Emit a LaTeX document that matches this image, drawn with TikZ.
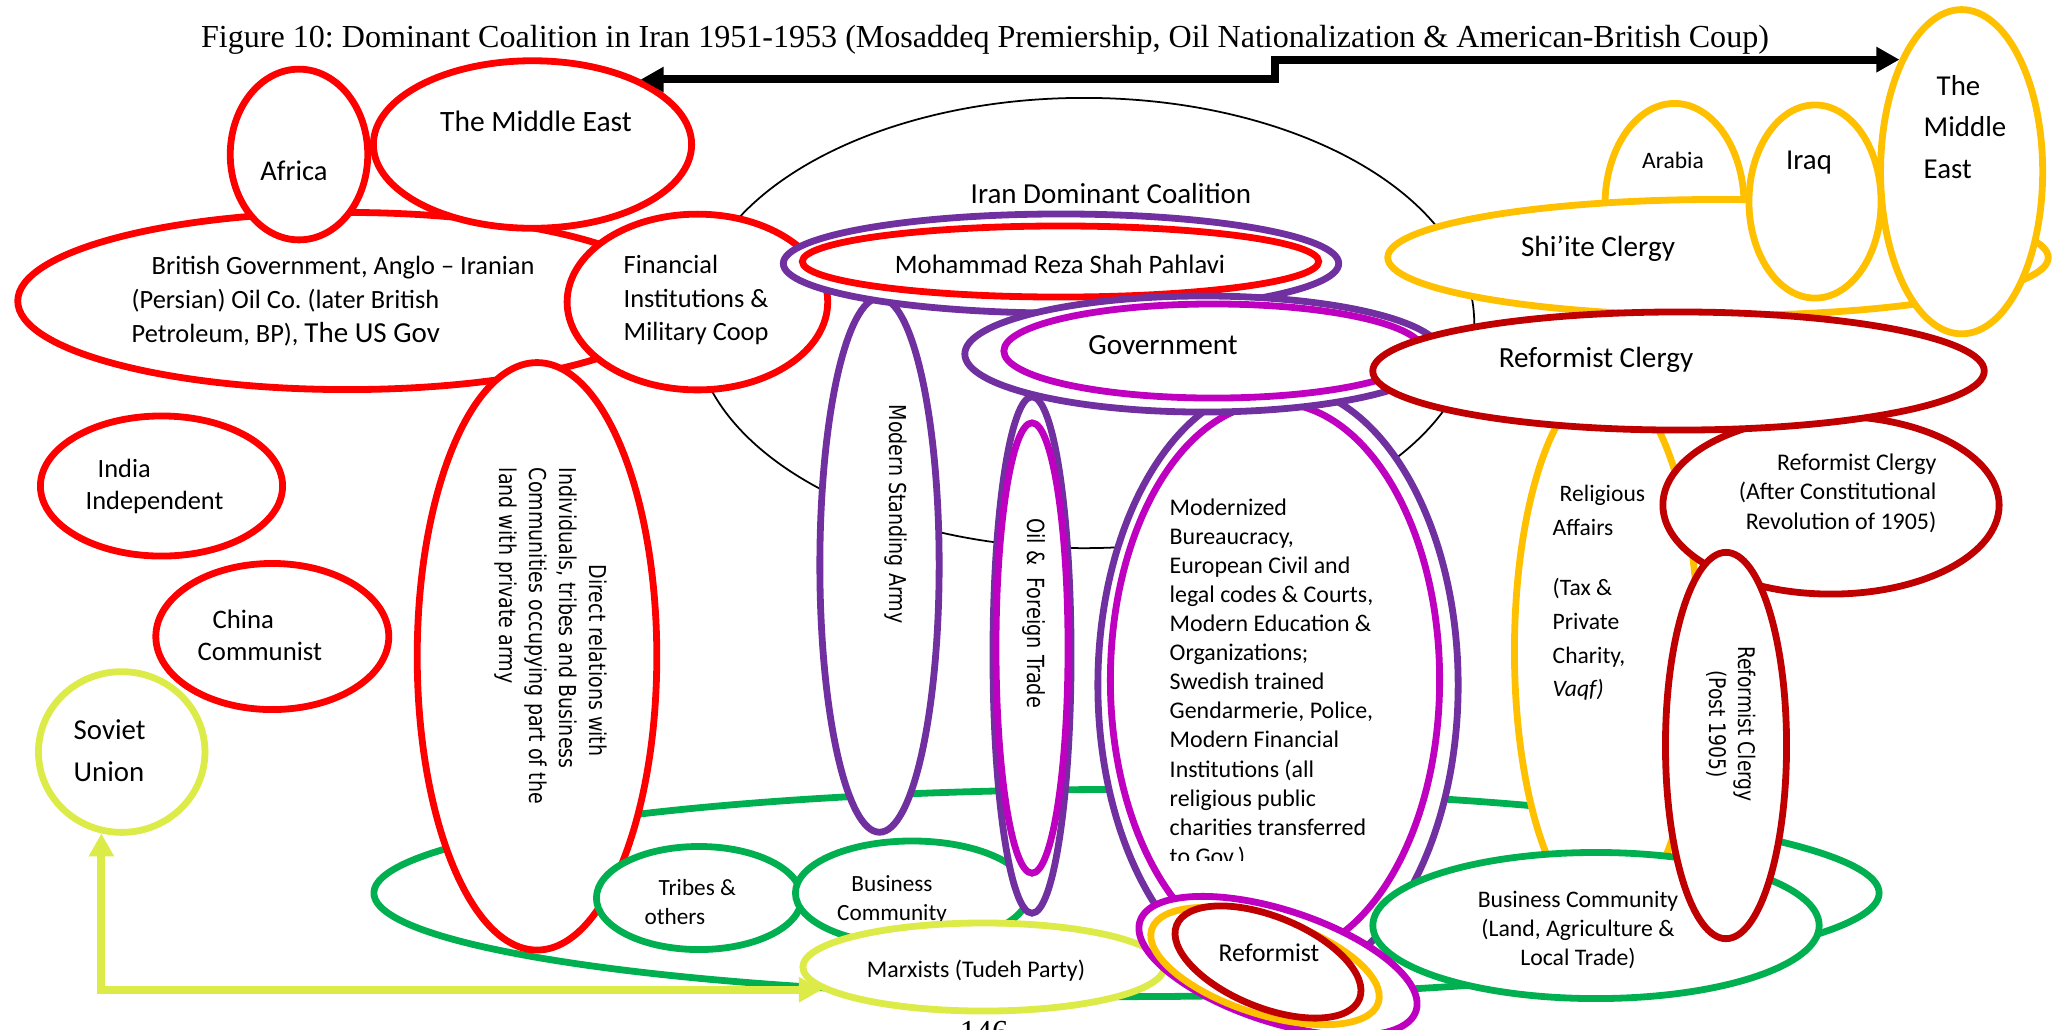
\documentclass[tikz,border=0pt]{standalone}
\usepackage{fontspec}
\usepackage{graphicx}
\setmainfont{Carlito}
\newfontfamily\serifface{Liberation Serif}
\newfontfamily\vsans{DejaVu Sans}
\usetikzlibrary{shapes.geometric,arrows.meta}

\definecolor{cred}{RGB}{255,0,0}
\definecolor{cdred}{RGB}{192,0,0}
\definecolor{cpurple}{RGB}{112,48,160}
\definecolor{cmag}{RGB}{192,0,192}
\definecolor{cgold}{RGB}{255,192,0}
\definecolor{cgreen}{RGB}{0,176,80}
\definecolor{clime}{RGB}{221,235,73}

\tikzset{
  oval/.style 2 args={ellipse, fill=white, line width=0.068cm, inner sep=0pt,
    minimum width=#1*0.02cm, minimum height=#2*0.02cm},
  coalring/.style={ellipse, draw=black, line width=0.5pt, inner sep=0pt,
    minimum width=7.8cm, minimum height=4.5cm},
  txt/.style 2 args={inner sep=0pt, font=\fontsize{#1}{#2}\selectfont},
  vtxt/.style 2 args={inner sep=0pt, rotate=-90, font=\vsans\fontsize{#1}{#2}\selectfont},
  blkarrow/.style={line width=0.08cm, draw=black, {Triangle[length=0.23cm,width=0.24cm]}-{Triangle[length=0.23cm,width=0.24cm]}},
  limearrow/.style={line width=0.08cm, draw=clime, {Triangle[length=0.23cm,width=0.24cm]}-{Triangle[length=0.23cm,width=0.24cm]}},
}

\begin{document}
\frenchspacing
\begin{tikzpicture}[x=0.01cm,y=-0.01cm]
\useasboundingbox (0,0) rectangle (2058,1029);
\clip (0,0) rectangle (2058,1029);

% heading
\node[inner sep=0pt, font=\serifface\fontsize{9.12}{11}\selectfont] (title) at (985,40)
  {Figure 10: Dominant Coalition in Iran 1951-1953 (Mosaddeq Premiership, Oil Nationalization \& American-British Coup)};

% the coalition ring
\node[coalring] (coal) at (1084,323) {};
\node[txt={8.25}{10}] (coaltx) at (1111,194) {Iran Dominant Coalition};

% wide green ring of the economy
\node[oval={752}{103.5}, draw=cgreen] (tradeall) at (1126.5,893) {};

% foreign powers (red)
\node[oval={329}{88.5}, draw=cred] (brit) at (347,301) {};
\node[txt={7.5}{9.67}, align=left, anchor=west] (brittx) at (131,301)
  {\hspace{0.2cm}British Government, Anglo -- Iranian\\(Persian) Oil Co. (later British\\Petroleum, BP), {\fontsize{8.25}{9.67}\selectfont The US Gov}};
\node[oval={68.7}{85.3}, draw=cred] (afr) at (299,154.5) {};
\node[txt={8.1}{10}] (afrtx) at (294,171) {Africa};
\node[oval={159}{83.7}, draw=cred] (meL) at (532.5,144.5) {};
\node[txt={8.4}{10}] (meLtx) at (536,121) {The Middle East};
\node[oval={130.2}{87.8}, draw=cred] (fin) at (697.4,302) {};
\node[txt={7.5}{9.4}, align=left, anchor=west] (fintx) at (623,300)
  {Financial\\Institutions \&\\Military Coop};

\node[oval={119.7}{293.5}, draw=cred] (direct) at (537,656.3) {};
\node[vtxt={6.6}{8.5}, anchor=west] (directtx) at (550.5,467)
  {\scalebox{0.82}[1]{\begin{tabular}{@{}l@{}}\hspace{1.18cm}Direct relations with\\Individuals, tribes and Business\\Communities occupying part of the\\land with private army\end{tabular}}};

\node[oval={121}{70}, draw=cred] (india) at (161.5,486) {};
\node[txt={7.5}{9.1}, align=left, anchor=west] (indiatx) at (85,486) {\hspace{0.12cm}India\\Independent};
\node[oval={116.4}{73}, draw=cred] (china) at (272.3,636.5) {};
\node[txt={7.6}{9.1}, align=left, anchor=west] (chinatx) at (197,635) {\hspace{0.15cm}China\\Communist};
\node[oval={83.2}{80.3}, draw=clime] (sov) at (121.7,752) {};
\node[txt={8.2}{12}, align=left, anchor=west] (sovtx) at (73,751) {Soviet\\Union};

% domestic groups (green)
\node[oval={102.5}{51.5}, draw=cgreen] (tribes) at (699,898) {};
\node[txt={6.6}{8.25}, align=left, anchor=west] (tribestx) at (644,902) {\hspace{0.14cm}Tribes \&\\others};
\node[oval={116.5}{52}, draw=cgreen] (bizL) at (912,893) {};
\node[txt={6.6}{8.25}, align=center] (bizLtx) at (892,900) {Business\\Community};

% state apparatus (purple / magenta)
\node[oval={59.6}{267}, draw=cpurple] (army) at (879.5,565) {};
\node[vtxt={6.6}{8.5}] (armytx) at (896,514) {\scalebox{0.82}[1]{Modern Standing Army}};
\node[oval={39}{258}, draw=cpurple] (oilP) at (1032,655) {};
\node[oval={36}{225}, draw=cmag] (oilM) at (1032,648) {};
\node[vtxt={6.7}{8.5}] (oiltx) at (1034,613) {\scalebox{0.82}[1]{Oil \&\ \ Foreign Trade}};

\node[oval={180}{300}, draw=cpurple] (burP) at (1278,685) {};
\node[oval={164.5}{277}, draw=cmag] (burM) at (1275,680) {};
\begin{scope}
  \clip (1150,480) rectangle (1440,860);
  \node[txt={6.8}{8.27}, align=left, anchor=north west] (burtx) at (1169,498)
    {Modernized\\Bureaucracy,\\European Civil and\\legal codes \& Courts,\\Modern Education \&\\Organizations;\\Swedish trained\\Gendarmerie, Police,\\Modern Financial\\Institutions (all\\religious public\\charities transferred\\to Gov.)};
\end{scope}

\node[oval={277.5}{49.5}, draw=cpurple] (shahP) at (1061,263.5) {};
\node[oval={258}{35.5}, draw=cred] (shahR) at (1060.5,261.5) {};
\node[txt={7.57}{10}] (shahtx) at (1060,264) {Mohammad Reza Shah Pahlavi};

\node[oval={238.5}{58}, draw=cpurple] (govP) at (1203.5,354) {};
\node[oval={209.5}{47}, draw=cmag] (govM) at (1213.5,351) {};
\node[txt={8.3}{10}] (govtx) at (1163,345) {Government};

% clergy (gold)
\node[oval={92}{268}, draw=cgold] (relig) at (1606.5,651) {};
\node[txt={6.7}{9.6}, align=left, anchor=west] (religtx) at (1552,593)
  {\hspace{0.07cm}Religious\\Affairs\\[7.5pt](Tax \&\\Private\\Charity,\\\textit{Vaqf)}};

\node[oval={69.5}{101.5}, draw=cgold] (arab) at (1674.5,205) {};
\node[txt={6.7}{8}] (arabtx) at (1673,160) {Arabia};
\node[oval={330}{58}, draw=cgold] (shia) at (1718,257.5) {};
\node[txt={8.3}{10}] (shiatx) at (1598,249) {Shi’ite Clergy};
\node[oval={66}{96.5}, draw=cgold] (iraq) at (1815,201.5) {};
\node[txt={8.2}{10}] (iraqtx) at (1809,163) {Iraq};
\node[oval={81}{162}, draw=cgold] (meR) at (1961.6,171.7) {};
\node[txt={8.2}{11.8}, align=left, anchor=west] (meRtx) at (1923,127) {\hspace{0.13cm}The\\Middle\\East};

% landed business and reformists
\node[oval={223}{73}, draw=cgreen] (bizR) at (1596,925.5) {};
\node[txt={6.75}{8.25}, align=center] (bizRtx) at (1578,930) {Business Community\\(Land, Agriculture \&\\Local Trade)};
\node[oval={168}{89}, draw=cdred] (refA) at (1831,505) {};
\node[txt={6.8}{8.4}, align=right, anchor=east] (refAtx) at (1937,493)
  {Reformist Clergy\\(After Constitutional\\Revolution of 1905)};
\node[oval={60.5}{193}, draw=cdred] (refP) at (1726,745.5) {};
\node[vtxt={6.5}{8.25}] (refPtx) at (1730,724)
  {\scalebox{0.82}[1]{\begin{tabular}{@{}c@{}}Reformist Clergy\\(Post 1905)\end{tabular}}};
\node[oval={305.5}{59}, draw=cdred] (refC) at (1678.5,371) {};
\node[txt={8.3}{10}] (refCtx) at (1596,360) {Reformist Clergy};

% left opposition
\node[oval={180.5}{44}, draw=clime] (marx) at (983.5,967) {};
\node[txt={6.8}{8}] (marxtx) at (976,971) {Marxists (Tudeh Party)};

% nested reformist rings
\node[oval={145}{56}, draw=cmag, rotate=-18] (nestM) at (1278,966) {};
\node[oval={119}{48}, draw=cgold, rotate=-18] (nestO) at (1265,966) {};
\node[oval={98.5}{45.5}, draw=cdred, rotate=-22] (nestR) at (1268,962) {};
\node[txt={7.3}{9}] (nesttx) at (1269,953) {Reformist};

% links
\coordinate (jog) at (1275,0);
\draw[blkarrow] (meL.31) -- (meL.31 -| jog) |- (meR.119);
\draw[limearrow] (sov.256) |- (marx.188);

% page number
\node[inner sep=0pt, anchor=base, font=\serifface\fontsize{9.12}{11}\selectfont] (pg) at (984,1042) {146};
\end{tikzpicture}
\end{document}
